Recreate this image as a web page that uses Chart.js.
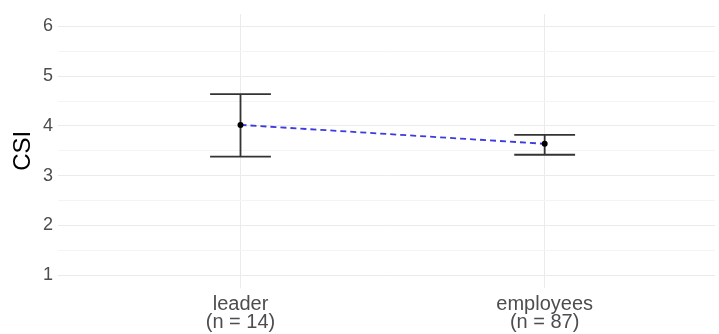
<!DOCTYPE html>
<html>
<head>
<meta charset="utf-8">
<script src="https://cdn.jsdelivr.net/npm/chart.js@4"></script>
<style>
  html, body { margin: 0; padding: 0; background: #fff; }
  #wrap { width: 719px; height: 334px; }
</style>
</head>
<body>
<div id="wrap"><canvas id="csiChart" width="719" height="334"></canvas></div>
<script>
const categories = ['leader', 'employees'];
const sampleSizes = [14, 87];
const means = [4.02, 3.64];
const lower = [3.38, 3.42];
const upper = [4.64, 3.82];
const yTicks = [1, 1.5, 2, 2.5, 3, 3.5, 4, 4.5, 5, 5.5, 6];
const capHalf = 0.1;

const font = '"Liberation Sans", Arial, sans-serif';
const barColor = '#333333';

const datasets = [{
  label: 'mean',
  data: means.map((m, i) => ({ x: i + 1, y: m })),
  showLine: true,
  borderColor: '#3b3be0',
  borderWidth: 1.8,
  borderDash: [6, 4],
  pointRadius: 3,
  pointBackgroundColor: '#000',
  pointBorderColor: '#000',
  pointBorderWidth: 0
}];

categories.forEach((c, i) => {
  const x = i + 1;
  const segs = [
    [{ x, y: lower[i] }, { x, y: upper[i] }],
    [{ x: x - capHalf, y: upper[i] }, { x: x + capHalf, y: upper[i] }],
    [{ x: x - capHalf, y: lower[i] }, { x: x + capHalf, y: lower[i] }]
  ];
  segs.forEach((seg) => {
    datasets.push({
      label: c,
      data: seg,
      showLine: true,
      borderColor: barColor,
      borderWidth: 1.8,
      pointRadius: 0
    });
  });
});

new Chart(document.getElementById('csiChart'), {
  type: 'scatter',
  data: { datasets },
  options: {
    responsive: false,
    animation: false,
    layout: { padding: { top: 11, right: 0, bottom: 0, left: 0 } },
    plugins: { legend: { display: false }, tooltip: { enabled: false } },
    scales: {
      x: {
        type: 'linear',
        min: 0.4,
        max: 2.56,
        afterBuildTicks: (axis) => { axis.ticks = categories.map((c, i) => ({ value: i + 1 })); },
        afterFit: (axis) => { axis.height = 46.5; },
        border: { display: false },
        grid: { color: '#ebebeb', lineWidth: 1, drawTicks: false },
        ticks: {
          padding: 8,
          color: '#4d4d4d',
          font: { family: font, size: 20, lineHeight: 0.9 },
          maxRotation: 0,
          callback: (v) => {
            const i = Math.round(v) - 1;
            return [categories[i], '(n = ' + sampleSizes[i] + ')'];
          }
        }
      },
      y: {
        min: 0.75,
        max: 6.25,
        afterBuildTicks: (axis) => { axis.ticks = yTicks.map((v) => ({ value: v })); },
        afterFit: (axis) => { axis.width = 58; },
        border: { display: false },
        grid: {
          drawTicks: false,
          lineWidth: 1,
          color: (ctx) => (ctx.tick && Number.isInteger(ctx.tick.value) ? '#ebebeb' : '#f4f4f4')
        },
        title: {
          display: true,
          text: 'CSI',
          color: '#000',
          font: { family: font, size: 24, lineHeight: 1.2 },
          padding: { top: 9, bottom: 4 }
        },
        ticks: {
          padding: 5,
          color: '#4d4d4d',
          font: { family: font, size: 18, lineHeight: 1 },
          callback: (v) => (Number.isInteger(v) ? String(v) : '')
        }
      }
    }
  }
});
</script>
</body>
</html>
